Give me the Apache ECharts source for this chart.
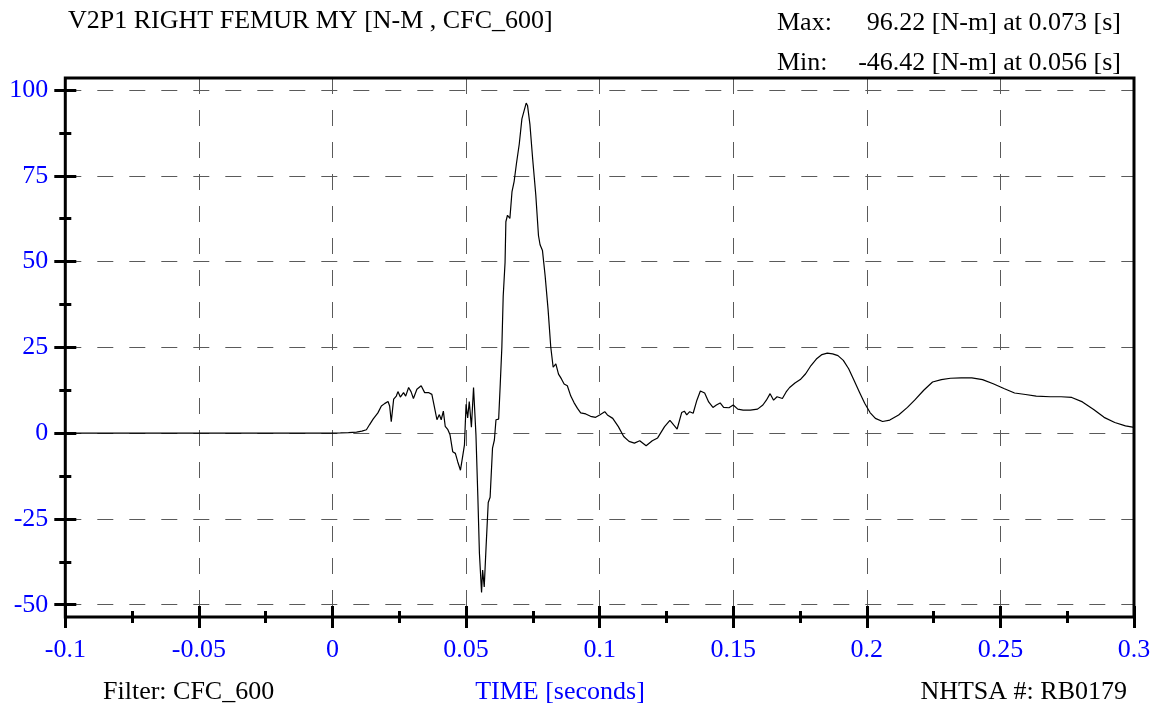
<!DOCTYPE html>
<html>
<head>
<meta charset="utf-8">
<script src="https://cdn.jsdelivr.net/npm/echarts@6/dist/echarts.min.js"></script>
<style>
html,body{margin:0;padding:0;background:#fff;}
#c{width:1159px;height:709px;}
</style>
</head>
<body>
<div id="c"></div>
<script>
// time in seconds
const timeValues = [
-0.1, 0.0, 0.003, 0.006, 0.009, 0.011, 0.0127, 0.0139, 0.0152, 0.017, 0.0183, 0.0195, 0.0208, 0.0214, 0.022,
0.0229, 0.0239, 0.0245, 0.0254, 0.0266, 0.0274, 0.0285, 0.0294, 0.0303, 0.0316, 0.0332, 0.0345, 0.0361, 0.0372,
0.0382, 0.0391, 0.04, 0.0407, 0.0415, 0.0422, 0.0432, 0.044, 0.045, 0.046, 0.0469, 0.0479, 0.0488, 0.0494,
0.05, 0.0506, 0.0512, 0.052, 0.0528, 0.0537, 0.0544, 0.055, 0.0558, 0.0562, 0.0568, 0.0575, 0.0583, 0.059,
0.0599, 0.0606, 0.0612, 0.0622, 0.0628, 0.0634, 0.0639, 0.0646, 0.0649, 0.0655, 0.0664, 0.0672, 0.068, 0.0689,
0.0699, 0.0709, 0.0725, 0.073, 0.0739, 0.0749, 0.0761, 0.0771, 0.0777, 0.0786, 0.0796, 0.0807, 0.0817, 0.0826,
0.0836, 0.0846, 0.0857, 0.0867, 0.0879, 0.0892, 0.0904, 0.0917, 0.0929, 0.0948, 0.0966, 0.0985, 0.1, 0.1019,
0.1029, 0.1049, 0.107, 0.109, 0.111, 0.113, 0.115, 0.1174, 0.1197, 0.1217, 0.1243, 0.1263, 0.1277, 0.129,
0.1307, 0.1317, 0.1326, 0.1337, 0.135, 0.1364, 0.1377, 0.1393, 0.1408, 0.1424, 0.1437, 0.1451, 0.1464, 0.1484,
0.15, 0.1517, 0.1537, 0.1564, 0.1591, 0.1611, 0.1624, 0.1638, 0.1651, 0.1664, 0.1684, 0.1698, 0.1711, 0.1731,
0.1751, 0.1771, 0.1791, 0.1811, 0.1832, 0.1852, 0.1872, 0.1892, 0.1912, 0.1932, 0.1952, 0.1972, 0.1992, 0.2012,
0.2032, 0.2059, 0.2086, 0.2119, 0.2152, 0.2179, 0.2213, 0.2246, 0.2279, 0.2313, 0.2353, 0.2393, 0.2433, 0.2473,
0.2513, 0.2553, 0.2594, 0.2634, 0.2687, 0.2727, 0.2767, 0.2807, 0.2849, 0.2888, 0.2928, 0.2968, 0.3
];
// femur moment in N-m
const momentValues = [
0, 0, 0.05, 0.15, 0.3, 0.6, 1, 2.5, 4.1, 5.9, 7.9, 8.6, 9.2, 7.9, 3.3,
9.9, 10.8, 12.1, 10.5, 11.8, 10.8, 13.3, 12.1, 10.1, 12.8, 13.8, 11.8, 11.8, 11.3,
7.4, 3.9, 5.4, 3.9, 6.4, 2, 1, -0.5, -5.4, -5.9, -8.4, -10.8, -6.4, -3.4,
8.4, 4.4, 9.2, 1.7, 13.3, -0.5, -18.2, -35, -46.4, -39.9, -44.8, -33, -20.2, -18.7,
-4.4, -2, 3.9, 4.1, 14.3, 25.1, 39.9, 49.8, 61.6, 63.5, 62.6, 70.4, 73.4, 78.8,
84.2, 91.6, 96.2, 95.5, 90, 80.2, 69.4, 57.6, 54.9, 53.2, 45.8, 36, 25.1, 19.2,
20.2, 17.2, 15.8, 14.3, 13.8, 10.8, 8.9, 7.2, 5.9, 5.6, 4.9, 4.6, 5.3, 6.25,
5.3, 4.3, 1.9, -1, -2.4, -2.9, -2.2, -3.7, -2.2, -1.4, 1.9, 3.7, 2.4, 1.2,
6, 6.4, 5.3, 6.25, 5.8, 9.6, 12.3, 11.7, 9.1, 7.5, 8.2, 8.8, 7.5, 7.4,
8.2, 7, 6.7, 6.7, 7, 8.2, 9.6, 11.5, 9.6, 10.6, 10.1, 12, 13.3, 14.6,
15.6, 17.3, 19.7, 21.6, 22.9, 23.3, 23.1, 22.6, 21.2, 18.75, 15.4, 12, 8.7, 6,
4.3, 3.4, 3.8, 5.3, 7.5, 9.6, 12.5, 14.9, 15.6, 16, 16.1, 16.1, 15.6, 14.4,
13, 11.7, 11.25, 10.8, 10.6, 10.6, 10.4, 9.1, 6.9, 4.6, 3.1, 2.1, 1.7
];
const xTickLabels = ['-0.1', '-0.05', '0', '0.05', '0.1', '0.15', '0.2', '0.25', '0.3'];
const yTickLabels = ['-50', '-25', '0', '25', '50', '75', '100'];
const xRange = [-0.1, 0.3], xStep = 0.05;
const yRange = [-50, 100], yStep = 25;

const titleText = 'V2P1 RIGHT FEMUR MY [N-M , CFC_600]';
const maxText = '96.22 [N-m] at 0.073 [s]';
const minText = '-46.42 [N-m] at 0.056 [s]';

const FONT = '"Liberation Serif", "Times New Roman", serif';
const FS = 26;
const BLUE = '#0000ff';
const seriesData = timeValues.map((t, i) => [t, momentValues[i]]);

const chart = echarts.init(document.getElementById('c'), null, {renderer: 'canvas'});

const L = 65.3, R = 25;
const dashed = {type: [16, 16], color: '#5a5a5a', width: 1};
const tickStyle = {color: '#000', width: 3};

chart.setOption({
  animation: false,
  backgroundColor: '#ffffff',
  grid: [
    {left: L, right: R, top: 90, bottom: 104.3},
    {left: L, right: R, top: 78, bottom: 92}
  ],
  xAxis: [
    {gridIndex: 0, type: 'value', min: xRange[0], max: xRange[1], interval: xStep,
     axisLine: {show: false, onZero: false}, axisTick: {show: false}, axisLabel: {show: false}, splitLine: {show: false}},
    {gridIndex: 1, type: 'value', position: 'bottom', min: xRange[0], max: xRange[1], interval: xStep,
     axisLine: {show: false, onZero: false},
     axisTick: {show: true, inside: false, length: 11, lineStyle: tickStyle},
     minorTick: {show: true, splitNumber: 2, length: 6, lineStyle: tickStyle},
     axisLabel: {show: true, color: BLUE, fontFamily: FONT, fontSize: FS, margin: 20,
       formatter: (v) => xTickLabels[Math.round((v - xRange[0]) / xStep)]},
     splitLine: {show: true, lineStyle: dashed}},
    {gridIndex: 1, type: 'value', position: 'bottom', min: xRange[0], max: xRange[1], interval: xStep,
     axisLine: {show: false, onZero: false},
     axisTick: {show: true, inside: true, length: 11, lineStyle: tickStyle},
     minorTick: {show: true, splitNumber: 2, length: 6, lineStyle: tickStyle},
     axisLabel: {show: false}, splitLine: {show: false}}
  ],
  yAxis: [
    {gridIndex: 0, type: 'value', position: 'left', min: yRange[0], max: yRange[1], interval: yStep,
     axisLine: {show: false, onZero: false},
     axisTick: {show: true, inside: false, length: 11, lineStyle: tickStyle},
     minorTick: {show: true, splitNumber: 2, length: 6, lineStyle: tickStyle},
     axisLabel: {show: true, color: BLUE, fontFamily: FONT, fontSize: FS, margin: 17, padding: [7, 0, 0, 0],
       formatter: (v) => yTickLabels[Math.round((v - yRange[0]) / yStep)]},
     splitLine: {show: true, lineStyle: dashed}},
    {gridIndex: 0, type: 'value', position: 'left', min: yRange[0], max: yRange[1], interval: yStep,
     axisLine: {show: false, onZero: false},
     axisTick: {show: true, inside: true, length: 11, lineStyle: tickStyle},
     minorTick: {show: true, splitNumber: 2, length: 6, lineStyle: tickStyle},
     axisLabel: {show: false}, splitLine: {show: false}},
    {gridIndex: 1, type: 'value', min: 0, max: 1, show: false}
  ],
  series: [{
    type: 'line', xAxisIndex: 0, yAxisIndex: 0, data: seriesData,
    showSymbol: false, symbol: 'none', smooth: false, clip: true,
    lineStyle: {color: '#000', width: 1.2}, z: 5
  }],
  graphic: [
    {type: 'rect', z: 100, silent: true,
     shape: {x: L, y: 78, width: 1159 - R - L, height: 709 - 92 - 78},
     style: {fill: 'none', stroke: '#000', lineWidth: 3}},
    {type: 'text', z: 100, style: {x: 68, y: 21, text: titleText, font: FS + 'px ' + FONT, fill: '#000', align: 'left', verticalAlign: 'middle'}},
    {type: 'text', z: 100, style: {x: 777, y: 23, text: 'Max:', font: FS + 'px ' + FONT, fill: '#000', align: 'left', verticalAlign: 'middle'}},
    {type: 'text', z: 100, style: {x: 1121, y: 23, text: maxText, font: FS + 'px ' + FONT, fill: '#000', align: 'right', verticalAlign: 'middle'}},
    {type: 'text', z: 100, style: {x: 777, y: 63, text: 'Min:', font: FS + 'px ' + FONT, fill: '#000', align: 'left', verticalAlign: 'middle'}},
    {type: 'text', z: 100, style: {x: 1121, y: 63, text: minText, font: FS + 'px ' + FONT, fill: '#000', align: 'right', verticalAlign: 'middle'}},
    {type: 'text', z: 100, style: {x: 103, y: 692, text: 'Filter: CFC_600', font: FS + 'px ' + FONT, fill: '#000', align: 'left', verticalAlign: 'middle'}},
    {type: 'text', z: 100, style: {x: 560, y: 692, text: 'TIME [seconds]', font: FS + 'px ' + FONT, fill: BLUE, align: 'center', verticalAlign: 'middle'}},
    {type: 'text', z: 100, style: {x: 1127, y: 692, text: 'NHTSA #: RB0179', font: FS + 'px ' + FONT, fill: '#000', align: 'right', verticalAlign: 'middle'}}
  ]
});
</script>
</body>
</html>
